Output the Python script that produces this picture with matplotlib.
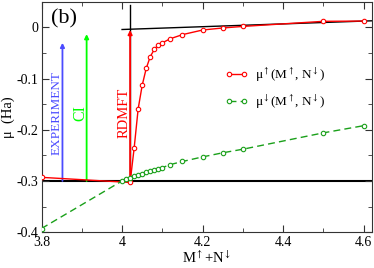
import matplotlib
matplotlib.use('Agg')
import matplotlib.pyplot as plt
from matplotlib.ticker import MultipleLocator

plt.rcParams['font.family'] = ['Liberation Serif', 'DejaVu Serif']
plt.rcParams['mathtext.fontset'] = 'stix'

# mu_up(M_up, N_down)
red_x = [3.8, 4.02, 4.03, 4.04, 4.05, 4.06, 4.07, 4.08, 4.09, 4.10,
         4.12, 4.15, 4.20, 4.25, 4.30, 4.50, 4.60]
red_y = [-0.293, -0.303, -0.236, -0.159, -0.113, -0.080, -0.057,
         -0.043, -0.034, -0.030, -0.022, -0.014, -0.005, -0.001, 0.002, 0.012, 0.0125]

# mu_down(M_up, N_down)
green_x = [3.8, 4.00, 4.01, 4.02, 4.03, 4.04, 4.05, 4.06, 4.07, 4.08, 4.09, 4.10,
           4.12, 4.15, 4.20, 4.25, 4.30, 4.50, 4.60]
green_y = [-0.393, -0.300, -0.297, -0.294, -0.291, -0.288, -0.286, -0.283, -0.281,
           -0.279, -0.276, -0.274, -0.268, -0.262, -0.253, -0.245, -0.238, -0.206, -0.192]

# reference lines / arrows
ref_level = -0.30
tangent_x = [4.0, 4.62]
tangent_y = [-0.004, 0.013]
vline_x = 4.02
vline_top = 0.043
arrows = [("EXPERIMENT", 3.852, -0.030, '#4b4bff', 3.838, 9.5),
          ("CI", 3.912, -0.013, '#00ff00', 3.897, 11.5),
          ("RDMFT", 4.020, -0.005, '#ff0000', 4.004, 10.5)]

fig = plt.figure(figsize=(3.74, 2.68), dpi=100)
ax = fig.add_axes([0.111, 0.134, 0.883, 0.859])
for s in ax.spines.values():
    s.set_color('#333333')

ax.axhline(ref_level, color='black', lw=1.5, zorder=1)
ax.plot(tangent_x, tangent_y, color='black', lw=1.0, zorder=1)
ax.plot([vline_x, vline_x], [ref_level, vline_top], color='black', lw=1.0, zorder=1)

for label, x, ytop, col, tx, fs in arrows:
    ax.annotate('', xy=(x, ytop), xytext=(x, ref_level),
                arrowprops=dict(arrowstyle='-|>', color=col, lw=1.3,
                                mutation_scale=6, shrinkA=0, shrinkB=0), zorder=3)
    ax.text(tx, -0.167, label, color=col, rotation=90, ha='center', va='center',
            fontsize=fs)

ax.plot(red_x, red_y, color='red', lw=1.0, marker='o', ms=3.2, mfc='white',
        mec='red', mew=0.8, zorder=4,
        label='μ$^{\\uparrow}$(M$^{\\uparrow}$, N$^{\\downarrow}$)')
ax.plot(green_x, green_y, color='#1aa01a', lw=1.0, ls=(0, (5, 3)), marker='o',
        ms=3.2, mfc='white', mec='#1aa01a', mew=0.8, zorder=4,
        label='μ$^{\\downarrow}$(M$^{\\uparrow}$, N$^{\\downarrow}$)')

ax.set_xlim(3.8, 4.62)
ax.set_ylim(-0.4, 0.05)
ax.xaxis.set_minor_locator(MultipleLocator(0.1))
ax.yaxis.set_minor_locator(MultipleLocator(0.05))
ax.set_xticks([3.8, 4.0, 4.2, 4.4, 4.6])
ax.set_xticklabels(['3.8', '4', '4.2', '4.4', '4.6'])
ax.set_yticks([-0.4, -0.3, -0.2, -0.1, 0])
ax.set_yticklabels(['-0.4', '-0.3', '-0.2', '-0.1', '0'])
ax.tick_params(which='both', direction='in', top=True, right=True, labelsize=10,
               color='#333333')
ax.tick_params(axis='x', pad=3)
ax.tick_params(axis='y', pad=2)
ax.tick_params(which='major', length=5)
ax.tick_params(which='minor', length=3)

ax.set_xlabel('M$^{\\uparrow}$+N$^{\\downarrow}$', fontsize=10.5, labelpad=0)
ax.set_ylabel('μ  (Ha)', fontsize=10.5, labelpad=1)
ax.text(0.068, 0.925, '(b)', transform=ax.transAxes, fontsize=16, ha='center', va='center')

ax.legend(loc='center left', bbox_to_anchor=(0.52, 0.625), frameon=False, fontsize=9.5,
          numpoints=2, handlelength=1.7, handletextpad=0.6, labelspacing=0.65)

fig.savefig('out.png', dpi=100)
